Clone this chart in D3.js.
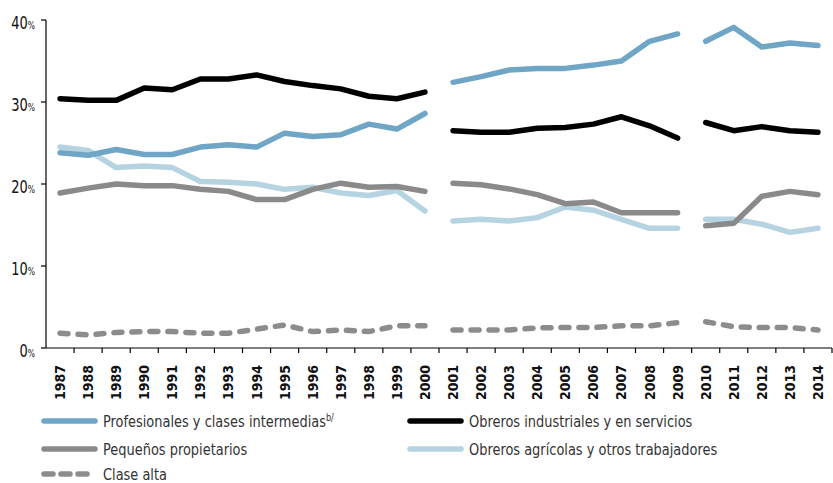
<!DOCTYPE html>
<html>
<head>
<meta charset="utf-8">
<script src="https://cdn.jsdelivr.net/npm/d3@7"></script>
<style>
  body { margin: 0; background: #fff; }
  svg { display: block; }
  .cond { font-family: "DejaVu Sans Condensed", "DejaVu Sans", sans-serif; }
</style>
</head>
<body>
<div id="chart"></div>
<script>
// Years on the x axis
const years = d3.range(1987, 2015);
// The series are broken after these years
const breakAfter = [2000, 2009];

// Values in percent, one per year 1987..2014
const profesionales = [23.8, 23.5, 24.2, 23.6, 23.6, 24.5, 24.8, 24.5, 26.2, 25.8, 26.0, 27.3, 26.7, 28.6,
  32.4, 33.1, 33.9, 34.1, 34.1, 34.5, 35.0, 37.4, 38.3, 37.4, 39.1, 36.7, 37.2, 36.9];
const obrerosInd = [30.4, 30.2, 30.2, 31.7, 31.5, 32.8, 32.8, 33.3, 32.5, 32.0, 31.6, 30.7, 30.4, 31.2,
  26.5, 26.3, 26.3, 26.8, 26.9, 27.3, 28.2, 27.1, 25.6, 27.5, 26.5, 27.0, 26.5, 26.3];
const pequenos = [18.9, 19.5, 20.0, 19.8, 19.8, 19.35, 19.1, 18.1, 18.1, 19.35, 20.1, 19.6, 19.7, 19.1,
  20.1, 19.9, 19.4, 18.7, 17.6, 17.8, 16.5, 16.5, 16.5, 14.9, 15.2, 18.5, 19.1, 18.7];
const obrerosAgr = [24.5, 24.1, 22.0, 22.2, 22.0, 20.3, 20.2, 20.0, 19.35, 19.6, 18.9, 18.6, 19.2, 16.7,
  15.5, 15.7, 15.5, 15.9, 17.2, 16.8, 15.7, 14.6, 14.6, 15.7, 15.7, 15.1, 14.1, 14.6];
const claseAlta = [1.8, 1.6, 1.9, 2.0, 2.0, 1.8, 1.8, 2.3, 2.8, 2.0, 2.2, 2.0, 2.7, 2.7,
  2.2, 2.2, 2.2, 2.45, 2.5, 2.5, 2.7, 2.7, 3.1, 3.2, 2.6, 2.5, 2.5, 2.2];

const yTicks = [0, 10, 20, 30, 40];

const series = [
  { name: 'Profesionales y clases intermedias', sup: 'b/', values: profesionales, color: '#6fa6c6', dash: null },
  { name: 'Obreros industriales y en servicios', values: obrerosInd, color: '#000000', dash: null },
  { name: 'Pequeños propietarios', values: pequenos, color: '#8a8a8a', dash: null },
  { name: 'Obreros agrícolas y otros trabajadores', values: obrerosAgr, color: '#b6d3e1', dash: null },
  { name: 'Clase alta', values: claseAlta, color: '#8c8c8c', dash: '8,10' }
];

const width = 833, height = 483;
const margin = { left: 46, right: 1, top: 20, bottom: 135 };

const svg = d3.select('#chart').append('svg')
  .attr('width', width)
  .attr('height', height);

const x = d3.scaleBand()
  .domain(years)
  .range([margin.left, width - margin.right]);

const y = d3.scaleLinear()
  .domain([0, 40])
  .range([height - margin.bottom, margin.top]);

const y0 = y(0);

// axes
svg.append('line')
  .attr('x1', margin.left).attr('x2', margin.left)
  .attr('y1', y(40)).attr('y2', y0)
  .attr('stroke', '#000').attr('stroke-width', 1.2);

svg.append('line')
  .attr('x1', margin.left).attr('x2', x.range()[1])
  .attr('y1', y0).attr('y2', y0)
  .attr('stroke', '#000').attr('stroke-width', 1.2);

// y ticks
yTicks.forEach(t => {
  svg.append('line')
    .attr('x1', margin.left - 5).attr('x2', margin.left)
    .attr('y1', y(t)).attr('y2', y(t))
    .attr('stroke', '#000').attr('stroke-width', 1.2);
  const lab = svg.append('text')
    .attr('class', 'cond')
    .attr('transform', `translate(35,${y(t) + 9}) scale(0.85,1)`)
    .attr('text-anchor', 'end')
    .style('font-size', '17px')
    .style('fill', '#111');
  lab.append('tspan').text(t);
  lab.append('tspan').style('font-size', '10px').text('%');
});

// x ticks at band edges
years.forEach(yr => {
  svg.append('line')
    .attr('x1', x(yr) + x.bandwidth()).attr('x2', x(yr) + x.bandwidth())
    .attr('y1', y0).attr('y2', y0 + 5)
    .attr('stroke', '#000').attr('stroke-width', 1.2);
  const cx = x(yr) + x.bandwidth() / 2;
  svg.append('text')
    .attr('class', 'cond')
    .attr('transform', `translate(${cx + 5},${y0 + 17}) rotate(-90)`)
    .attr('text-anchor', 'end')
    .style('font-size', '14px')
    .style('font-weight', 'bold')
    .style('fill', '#111')
    .text(yr);
});

// split a series into its segments
function segments(values) {
  const segs = [];
  let cur = [];
  years.forEach((yr, i) => {
    cur.push({ year: yr, v: values[i] });
    if (breakAfter.includes(yr)) { segs.push(cur); cur = []; }
  });
  if (cur.length) segs.push(cur);
  return segs;
}

const line = d3.line()
  .x(d => x(d.year) + x.bandwidth() / 2)
  .y(d => y(d.v));

// draw order so black/blue sit on top
const drawOrder = [4, 3, 2, 0, 1];
drawOrder.forEach(k => {
  const s = series[k];
  segments(s.values).forEach(seg => {
    svg.append('path')
      .datum(seg)
      .attr('d', line)
      .attr('fill', 'none')
      .attr('stroke', s.color)
      .attr('stroke-width', 5.5)
      .attr('stroke-linecap', 'round')
      .attr('stroke-linejoin', 'round')
      .attr('stroke-dasharray', s.dash);
  });
});

// legend
const legendPos = [
  { x: 44, y: 421 }, { x: 410, y: 421 },
  { x: 44, y: 449 }, { x: 410, y: 449 },
  { x: 44, y: 474 }
];
series.forEach((s, i) => {
  const p = legendPos[i];
  const g = svg.append('g').attr('transform', `translate(${p.x},${p.y})`);
  g.append('line')
    .attr('x1', 0).attr('x2', 51)
    .attr('y1', 0).attr('y2', 0)
    .attr('stroke', s.color)
    .attr('stroke-width', 5.5)
    .attr('stroke-linecap', 'round')
    .attr('stroke-dasharray', s.dash ? '9,8' : null);
  const t = g.append('text')
    .attr('class', 'cond')
    .attr('transform', 'translate(59,5.5) scale(0.9,1)')
    .style('font-size', '16px')
    .style('fill', '#333');
  t.append('tspan').text(s.name);
  if (s.sup) {
    t.append('tspan').attr('dy', -6).style('font-size', '10px').text(s.sup);
  }
});
</script>
</body>
</html>
